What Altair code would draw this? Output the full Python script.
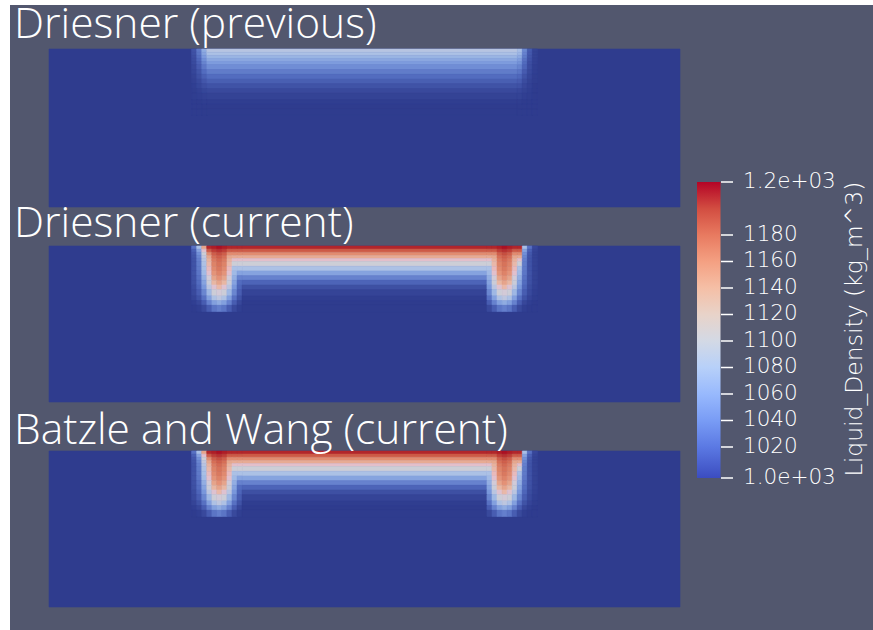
import altair as alt
import pandas as pd

# ---------------------------------------------------------------------------
# Liquid density (kg/m^3) on the model cross-section, three runs.
# x: horizontal distance (m), depth: distance below the top boundary (m).
# ---------------------------------------------------------------------------
DOMAIN_X = [0, 2000]
DOMAIN_DEPTH = [0, 500]

panel_titles = ["Driesner (previous)", "Driesner (current)", "Batzle and Wang (current)"]
base_density = [998, 998, 998]

depth_edges = [0, 10, 20, 30, 40, 50, 65, 80, 95, 110, 125, 140, 160, 175, 190, 210]

# column edges of the refined strip near the brine source
previous_x_edges = [452, 468, 484, 500, 1484, 1500, 1516, 1532, 1548]
current_x_edges = [452, 468, 484, 500, 516, 532, 548, 564, 580, 596, 612,
                   1388, 1404, 1420, 1436, 1452, 1468, 1484, 1500, 1516, 1532, 1548]

previous_rows = [
    [1012, 1034, 1066, 1088, 1079, 1043, 1016, 1002],
    [1011, 1032, 1061, 1082, 1074, 1040, 1015, 1002],
    [1009, 1028, 1054, 1072, 1065, 1035, 1013, 1002],
    [1008, 1024, 1047, 1063, 1056, 1030, 1011, 1001],
    [1007, 1021, 1041, 1055, 1049, 1026, 1009, 1001],
    [1005, 1017, 1034, 1046, 1041, 1022, 1008, 1000],
    [1004, 1013, 1027, 1036, 1032, 1017, 1006, 1000],
    [1002, 1010, 1020, 1027, 1024, 1012, 1004, 999],
    [1001, 1006, 1014, 1019, 1017, 1008, 1002, 999],
    [1000, 1004, 1009, 1012, 1011, 1005, 1001, 998],
    [999, 1001, 1004, 1006, 1005, 1002, 1000, 998],
    [999, 1000, 1001, 1002, 1002, 1000, 999, 998],
    [998, 998, 999, 999, 999, 998, 998, 998],
    [998, 998, 998, 998, 998, 998, 998, 998],
    [998, 998, 998, 998, 998, 998, 998, 998],
]

driesner_rows = [
    [1030, 1080, 1150, 1212, 1215, 1218, 1215, 1212, 1212, 1212, 1212, 1212, 1212, 1215, 1218, 1215, 1212, 1212, 1080, 1030, 1005],
    [1020, 1060, 1125, 1190, 1203, 1208, 1203, 1190, 1190, 1190, 1190, 1190, 1190, 1203, 1208, 1203, 1190, 1190, 1060, 1020, 1003],
    [1015, 1048, 1105, 1165, 1188, 1195, 1188, 1165, 1165, 1165, 1165, 1165, 1165, 1188, 1195, 1188, 1165, 1165, 1048, 1015, 1002],
    [1013, 1042, 1095, 1148, 1180, 1187, 1180, 1148, 1145, 1145, 1145, 1145, 1148, 1180, 1187, 1180, 1148, 1145, 1042, 1013, 1002],
    [1012, 1038, 1088, 1140, 1174, 1182, 1174, 1140, 1125, 1125, 1125, 1125, 1140, 1174, 1182, 1174, 1140, 1125, 1038, 1012, 1002],
    [1012, 1036, 1083, 1135, 1170, 1178, 1170, 1135, 1105, 1105, 1105, 1105, 1135, 1170, 1178, 1170, 1135, 1105, 1036, 1012, 1002],
    [1012, 1035, 1080, 1130, 1166, 1175, 1166, 1130, 1082, 1082, 1082, 1082, 1130, 1166, 1175, 1166, 1130, 1082, 1035, 1012, 1002],
    [1012, 1033, 1076, 1124, 1160, 1170, 1160, 1124, 1076, 1060, 1060, 1076, 1124, 1160, 1170, 1160, 1124, 1076, 1033, 1012, 1002],
    [1011, 1030, 1068, 1114, 1150, 1162, 1150, 1114, 1068, 1040, 1040, 1068, 1114, 1150, 1162, 1150, 1114, 1068, 1030, 1011, 1002],
    [1010, 1027, 1060, 1102, 1137, 1150, 1137, 1102, 1060, 1027, 1022, 1060, 1102, 1137, 1150, 1137, 1102, 1060, 1027, 1010, 1002],
    [1008, 1023, 1052, 1090, 1122, 1135, 1122, 1090, 1052, 1023, 1010, 1052, 1090, 1122, 1135, 1122, 1090, 1052, 1023, 1008, 1001],
    [1006, 1018, 1042, 1075, 1104, 1115, 1104, 1075, 1042, 1018, 1003, 1042, 1075, 1104, 1115, 1104, 1075, 1042, 1018, 1006, 1000],
    [1003, 1012, 1030, 1058, 1083, 1092, 1083, 1058, 1030, 1012, 999, 1030, 1058, 1083, 1092, 1083, 1058, 1030, 1012, 1003, 999],
    [1000, 1005, 1018, 1040, 1058, 1066, 1058, 1040, 1018, 1005, 998, 1018, 1040, 1058, 1066, 1058, 1040, 1018, 1005, 1000, 998],
    [998, 1000, 1006, 1018, 1032, 1038, 1032, 1018, 1006, 1000, 998, 1006, 1018, 1032, 1038, 1032, 1018, 1006, 1000, 998, 998],
]

batzle_wang_rows = driesner_rows

# colour bar
bar_range = [996.6, 1220.0]
bar_ticks = [996.6, 1020, 1040, 1060, 1080, 1100, 1120, 1140, 1160, 1180, 1220.0]
bar_labels = ["1.0e+03", "1020", "1040", "1060", "1080", "1100", "1120",
              "1140", "1160", "1180", "1.2e+03"]
bar_title = "Liquid_Density (kg_m^3)"

COOL_TO_WARM = ["#3b4cc0", "#6282ea", "#8db0fe", "#b8d0f9", "#dddddd",
                "#f5c4ad", "#f49a7b", "#de604d", "#b40426"]
# the lit surface renders the same map somewhat darker at the cool end
SHADED = ["#2d3a8c", "#5068bc", "#7a98dc", "#a9c0e6", "#d0d0d4",
          "#e8b8a4", "#e38e72", "#cb5544", "#a80322"]

FONT_TITLE = "Open Sans"
FONT_BAR = "DejaVu Sans"
BG = "#52576e"

PANEL_X_RANGE = [39, 670]
PANEL_Y_RANGES = [[44, 202], [241, 397], [446, 602]]
TITLE_Y = [33, 232, 439]


def cells_for(x_edges, rows, base):
    recs = [{"x0": DOMAIN_X[0], "x1": DOMAIN_X[1], "d0": DOMAIN_DEPTH[0],
             "d1": DOMAIN_DEPTH[1], "density": base}]
    for i, row in enumerate(rows):
        for j, val in enumerate(row):
            recs.append({"x0": x_edges[j], "x1": x_edges[j + 1],
                         "d0": depth_edges[i], "d1": depth_edges[i + 1],
                         "density": val})
    return pd.DataFrame(recs)


panel_scale = alt.Scale(domain=bar_range, range=SHADED)


def panel_layer(df, y_range):
    return alt.Chart(df).mark_rect(strokeWidth=0.6).encode(
        x=alt.X("x0:Q", scale=alt.Scale(domain=DOMAIN_X, range=PANEL_X_RANGE), axis=None),
        x2="x1:Q",
        y=alt.Y("d0:Q", scale=alt.Scale(domain=DOMAIN_DEPTH, range=y_range), axis=None),
        y2="d1:Q",
        color=alt.Color("density:Q", scale=panel_scale, legend=None),
        stroke=alt.Stroke("density:Q", scale=panel_scale, legend=None),
    )


# white page margin along the left and top edges of the screenshot frame
margin_df = pd.DataFrame({"side": ["left", "top"]})
page_margin = alt.layer(
    alt.Chart(margin_df).mark_rect(color="white").encode(
        x=alt.value(-10), x2=alt.value(0), y=alt.value(-5), y2=alt.value(625)),
    alt.Chart(margin_df).mark_rect(color="white").encode(
        x=alt.value(-10), x2=alt.value(863), y=alt.value(-5), y2=alt.value(0)),
)

panels = [
    panel_layer(cells_for(previous_x_edges, previous_rows, base_density[0]), PANEL_Y_RANGES[0]),
    panel_layer(cells_for(current_x_edges, driesner_rows, base_density[1]), PANEL_Y_RANGES[1]),
    panel_layer(cells_for(current_x_edges, batzle_wang_rows, base_density[2]), PANEL_Y_RANGES[2]),
]

titles = [
    alt.Chart(pd.DataFrame({"t": [t]})).mark_text(
        align="left", baseline="alphabetic", font=FONT_TITLE, fontSize=42.5,
        fontWeight=300, color="white"
    ).encode(x=alt.value(4), y=alt.value(ty), text="t:N")
    for t, ty in zip(panel_titles, TITLE_Y)
]

bar_df = pd.DataFrame({"v": bar_ticks, "label": bar_labels})
bar_y = alt.Y("v:Q", scale=alt.Scale(domain=bar_range, range=[473, 177]), axis=None)

bar_gradient = alt.Chart(bar_df).mark_text(text="").encode(
    color=alt.Color(
        "v:Q",
        scale=alt.Scale(domain=bar_range, range=COOL_TO_WARM),
        legend=alt.Legend(
            orient="none", legendX=687, legendY=177, direction="vertical",
            gradientLength=296, gradientThickness=23.5, gradientStrokeWidth=0,
            title=None, labelExpr="''", labelOpacity=0, padding=0,
        ),
    )
)

bar_tick_marks = alt.Chart(bar_df).mark_rule(color="white", strokeWidth=1.5).encode(
    y=bar_y, x=alt.value(711), x2=alt.value(723)
)

bar_tick_labels = alt.Chart(bar_df).mark_text(
    align="left", baseline="middle", font=FONT_BAR, fontSize=21.5, fontWeight=200,
    color="white"
).encode(y=bar_y, x=alt.value(733), text="label:N")

bar_title_mark = alt.Chart(pd.DataFrame({"t": [bar_title]})).mark_text(
    align="center", baseline="middle", font=FONT_BAR, fontSize=23.5, fontWeight=200,
    color="white", angle=270
).encode(x=alt.value(845), y=alt.value(324), text="t:N")

chart = alt.layer(
    page_margin, *panels, *titles, bar_gradient, bar_tick_marks, bar_tick_labels, bar_title_mark
).resolve_scale(
    x="independent", y="independent", color="independent", stroke="independent"
).properties(
    width=863, height=625,
    padding={"left": 10, "top": 5, "right": 0, "bottom": 0},
    autosize=alt.AutoSizeParams(type="none"),
    background=BG,
).configure_view(stroke=None)

chart.save("out.html", embed_options={"renderer": "svg", "actions": False})
